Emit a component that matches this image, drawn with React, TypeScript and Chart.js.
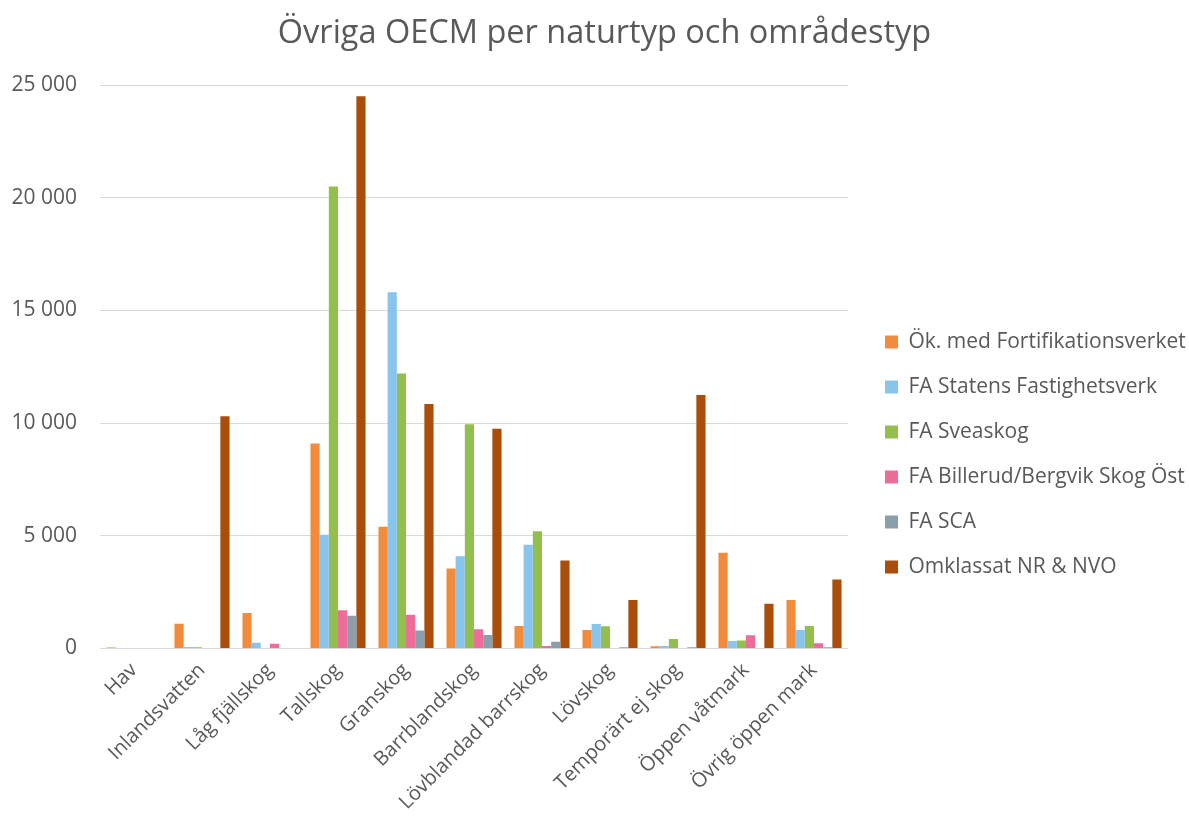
import React, { useEffect, useRef } from "react";
import { Chart, registerables } from "chart.js";

Chart.register(...registerables);

const categories = [
  "Hav",
  "Inlandsvatten",
  "Låg fjällskog",
  "Tallskog",
  "Granskog",
  "Barrblandskog",
  "Lövblandad barrskog",
  "Lövskog",
  "Temporärt ej skog",
  "Öppen våtmark",
  "Övrig öppen mark",
];

const fortifikationsverket = [40, 1100, 1570, 9100, 5400, 3550, 1000, 820, 100, 4250, 2150];
const statensFastighetsverk = [0, 70, 260, 5050, 15800, 4090, 4600, 1090, 110, 330, 820];
const sveaskog = [0, 50, 20, 20500, 12200, 9950, 5200, 990, 420, 360, 1000];
const billerudBergvik = [0, 0, 210, 1700, 1500, 850, 110, 20, 0, 590, 230];
const sca = [0, 0, 0, 1450, 800, 600, 300, 60, 60, 0, 50];
const omklassat = [0, 10300, 0, 24500, 10850, 9750, 3900, 2150, 11250, 1980, 3060];

const seriesNames = [
  "Ök. med Fortifikationsverket",
  "FA Statens Fastighetsverk",
  "FA Sveaskog",
  "FA Billerud/Bergvik Skog Öst",
  "FA SCA",
  "Omklassat NR & NVO",
];
const seriesColors = ["#F38B3C", "#88C4EC", "#93C04C", "#EE6C99", "#899FAC", "#AB4E0C"];

const yTicks = [0, 5000, 10000, 15000, 20000, 25000];

const FONT = "'Open Sans', sans-serif";
const TEXT = "#595959";

function fmt(v: number) {
  return String(v).replace(/\B(?=(\d{3})+(?!\d))/g, " ");
}

export default function App() {
  const ref = useRef<HTMLCanvasElement | null>(null);

  useEffect(() => {
    if (!ref.current) return;
    const allSeries = [fortifikationsverket, statensFastighetsverk, sveaskog, billerudBergvik, sca, omklassat];

    const layoutPlugin = {
      id: "layoutFix",
      beforeLayout(chart: any) {
        const lg = chart.legend;
        if (lg && !lg.__patched) {
          const orig = lg.fit;
          lg.fit = function () {
            orig.call(this);
            this.width = 341;
          };
          lg.__patched = true;
        }
      },
      afterLayout(chart: any) {
        const lg = chart.legend;
        if (lg) {
          lg.left += 13;
          lg.right += 13;
          lg.top += 84;
        }
        const tb = chart.titleBlock;
        if (tb) {
          tb.left += 10;
          tb.right += 10;
        }
      },
    };

    const chart = new Chart(ref.current, {
      type: "bar",
      data: {
        labels: categories,
        datasets: allSeries.map((d, i) => ({
          label: seriesNames[i],
          data: d,
          backgroundColor: seriesColors[i],
          borderWidth: 0,
          categoryPercentage: 0.81,
          barPercentage: 1.0,
        })),
      },
      options: {
        responsive: false,
        animation: false,
        layout: { padding: { left: 0, right: 0, top: 0, bottom: 0 } },
        plugins: {
          title: {
            display: true,
            text: "Övriga OECM per naturtyp och områdestyp",
            color: TEXT,
            font: { family: FONT, size: 32.5, weight: "normal" },
            padding: { top: 14, bottom: 32 },
          },
          legend: {
            position: "right",
            align: "center",
            labels: {
              color: TEXT,
              font: { family: FONT, size: 21 },
              boxWidth: 13,
              boxHeight: 13,
              padding: 24,
            },
          },
          tooltip: { enabled: false },
        },
        scales: {
          x: {
            grid: { display: false },
            border: { display: false },
            ticks: {
              color: TEXT,
              font: { family: FONT, size: 20 },
              minRotation: 45,
              maxRotation: 45,
              padding: 2,
            },
            afterFit(scale: any) {
              scale.height = 176.5;
            },
          },
          y: {
            min: 0,
            max: 25000,
            afterBuildTicks(scale: any) {
              scale.ticks = yTicks.map((v) => ({ value: v }));
            },
            grid: { color: "#D9D9D9", lineWidth: 1, drawTicks: false },
            border: { display: false },
            ticks: {
              color: TEXT,
              font: { family: FONT, size: 21 },
              padding: 23,
              callback: (v: any) => fmt(Number(v)),
            },
            afterFit(scale: any) {
              scale.width = 100;
            },
          },
        },
      },
      plugins: [layoutPlugin],
    });
    return () => chart.destroy();
  }, []);

  return (
    <div style={{ position: "fixed", left: 0, top: 0, width: 1189, height: 825, background: "#fff" }}>
      <canvas ref={ref} width={1189} height={825} style={{ display: "block" }} />
    </div>
  );
}
